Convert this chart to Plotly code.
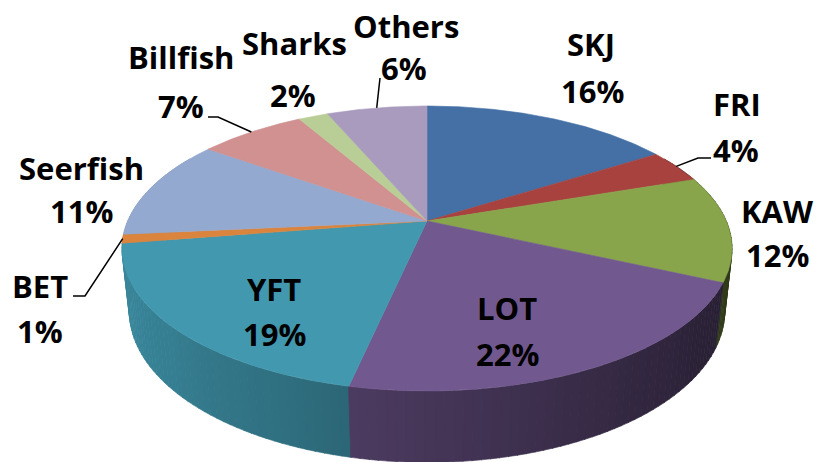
import numpy as np
import plotly.graph_objects as go

# ---------------- data ----------------
CATEGORIES = ["SKJ", "FRI", "KAW", "LOT", "YFT", "BET", "Seerfish", "Billfish", "Sharks", "Others"]
VALUES = [16.0, 3.8, 12.0, 21.6, 19.1, 1.0, 11.4, 6.8, 1.9, 6.4]
COLORS = ["#4470A5", "#A8423F", "#88A54B", "#71588F", "#4198AF",
          "#DB843D", "#93A9CF", "#D09190", "#B9CD96", "#A99BBD"]

# ---------------- layout / projection settings ----------------
W, H = 816, 462
CX, CY = 427.0, 221.0           # screen position of pie centre
A_SCALE = 299.3                 # horizontal scale (F/k)
SIN_E = 0.4584                  # sine of elevation angle
COS_E = float(np.sqrt(1 - SIN_E ** 2))
U = 0.193                       # perspective strength (c/k)
K = COS_E / U
F = A_SCALE * K
DEPTH = 0.238                   # pie thickness (relative to radius)

# label placements (name centre, pct centre) in screen pixels
LABEL_POS = {
    "SKJ": ((591, 44), (592, 91)),
    "FRI": ((737, 104), (736, 150)),
    "KAW": ((777, 211), (777, 255)),
    "LOT": ((507, 308), (507, 354)),
    "YFT": ((274, 289), (274, 334)),
    "BET": ((40, 286), (40, 331)),
    "Seerfish": ((81, 168), (81, 211)),
    "Billfish": ((181, 57), (181, 106)),
    "Sharks": ((294, 43), (293, 95)),
    "Others": ((406, 26), (404, 68)),
}
# leader line waypoints after the slice edge point
LEADERS = {
    "FRI": [(698, 158), (711, 158)],
    "BET": [(85, 296), (73, 296)],
    "Billfish": [(218, 117), (208, 117)],
    "Others": [(380, 78)],
}


def project(theta_deg, y_world):
    t = np.radians(np.asarray(theta_deg, dtype=float))
    X = np.sin(t)
    Z = np.cos(t)
    depth = K + COS_E * Z - SIN_E * y_world
    vert = COS_E * y_world + SIN_E * Z
    return CX + F * X / depth, CY - F * vert / depth


def shade(hex_color, f):
    h = hex_color.lstrip("#")
    r, g, b = (int(h[i:i + 2], 16) for i in (0, 2, 4))
    return "rgb(%d,%d,%d)" % (min(255, r * f), min(255, g * f), min(255, b * f))


fig = go.Figure()

total = float(sum(VALUES))
bounds = np.concatenate([[0.0], np.cumsum(VALUES) / total * 360.0])

# ---------------- side walls (painter's order) ----------------
pieces = []
for i, (a0, a1) in enumerate(zip(bounds[:-1], bounds[1:])):
    n = max(1, int(np.ceil((a1 - a0) / 1.5)))
    edges = np.linspace(a0, a1, n + 1)
    for e0, e1 in zip(edges[:-1], edges[1:]):
        mid = 0.5 * (e0 + e1)
        if np.cos(np.radians(mid)) > 0.5:
            continue
        pieces.append((np.cos(np.radians(mid)), i, e0, e1, mid))
pieces.sort(key=lambda p: -p[0])
for _, i, e0, e1, mid in pieces:
    arc = np.array([e0 - 0.05, e1 + 0.05])
    tx, ty = project(arc, 0.0)
    bx, by = project(arc[::-1], -DEPTH)
    f = 0.62 - 0.28 * np.sin(np.radians(mid))
    col = shade(COLORS[i], f)
    fig.add_trace(go.Scatter(
        x=np.concatenate([tx, bx, tx[:1]]), y=np.concatenate([ty, by, ty[:1]]),
        mode="lines", fill="toself", fillcolor=col,
        line=dict(color=col, width=0.6), hoverinfo="skip", showlegend=False))

# ---------------- top faces ----------------
for i, (a0, a1) in enumerate(zip(bounds[:-1], bounds[1:])):
    arc = np.linspace(a0, a1, max(3, int((a1 - a0) / 0.5) + 2))
    ax_, ay_ = project(arc, 0.0)
    x = np.concatenate([[CX], ax_, [CX]])
    y = np.concatenate([[CY], ay_, [CY]])
    fig.add_trace(go.Scatter(
        x=x, y=y, mode="lines", fill="toself", fillcolor=COLORS[i],
        line=dict(color=COLORS[i], width=0.6), hoverinfo="skip",
        name=CATEGORIES[i], showlegend=False))

# ---------------- leader lines ----------------
for i, cat in enumerate(CATEGORIES):
    if cat not in LEADERS:
        continue
    mid = 0.5 * (bounds[i] + bounds[i + 1])
    sx, sy = project([mid], 0.0)
    xs = [float(sx[0])] + [p[0] for p in LEADERS[cat]]
    ys = [float(sy[0])] + [p[1] for p in LEADERS[cat]]
    fig.add_trace(go.Scatter(x=xs, y=ys, mode="lines",
                             line=dict(color="black", width=1.5),
                             hoverinfo="skip", showlegend=False))

# ---------------- labels ----------------
annotations = []
for cat, v in zip(CATEGORIES, VALUES):
    (nx, ny), (px, py) = LABEL_POS[cat]
    pct = "%d%%" % int(round(v / total * 100))
    for txt, xx, yy in ((cat, nx, ny), (pct, px, py)):
        annotations.append(dict(
            x=xx, y=yy, xref="x", yref="y", text=txt, showarrow=False,
            xanchor="center", yanchor="middle",
            font=dict(family="Open Sans", size=31, color="black", weight="bold")))

fig.update_layout(
    width=W, height=H, margin=dict(l=0, r=0, t=0, b=0),
    paper_bgcolor="white", plot_bgcolor="white",
    xaxis=dict(range=[0, W], visible=False, fixedrange=True),
    yaxis=dict(range=[H, 0], visible=False, fixedrange=True),
    annotations=annotations, showlegend=False,
)

fig.write_html("out.html",
               config={"displayModeBar": False, "staticPlot": True},
               post_script="document.body.style.margin='0px';"
                           "document.body.style.overflow='hidden';")
